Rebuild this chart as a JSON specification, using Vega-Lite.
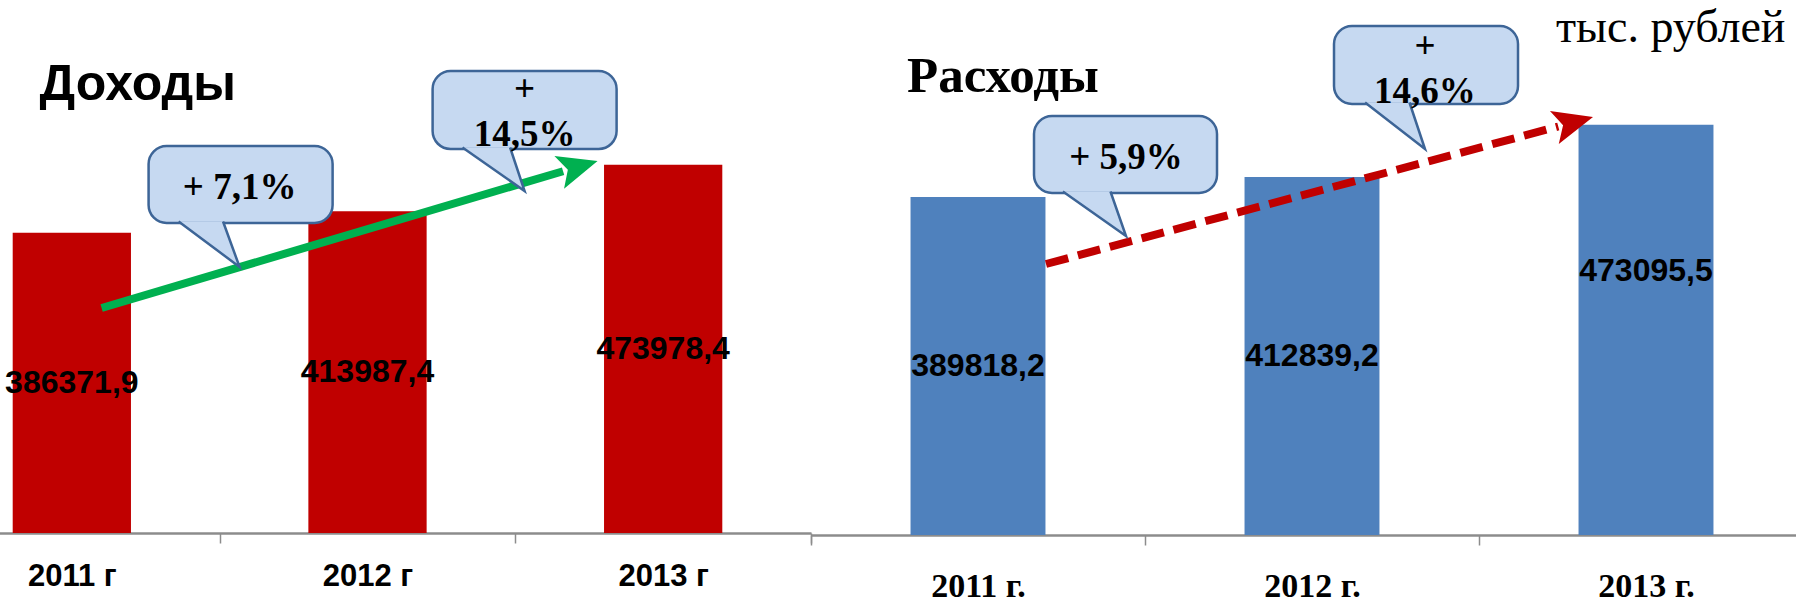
{
  "$schema": "https://vega.github.io/schema/vega-lite/v6.json",
  "background": "white",
  "padding": {"left": -77, "right": -17, "top": 0, "bottom": 0},
  "spacing": 0,
  "bounds": "flush",
  "config": {
    "view": {"stroke": null},
    "locale": {"number": {"decimal": ",", "thousands": " ", "grouping": [3], "currency": ["", ""]}}
  },
  "datasets": {
    "income": [
      {"year": "2011 г", "value": 386371.9},
      {"year": "2012 г", "value": 413987.4},
      {"year": "2013 г", "value": 473978.4}
    ],
    "expense": [
      {"year": "2011 г.", "value": 389818.2},
      {"year": "2012 г.", "value": 412839.2},
      {"year": "2013 г.", "value": 473095.5}
    ],
    "incArrow": [{"t": 2011.1007, "v": 289575, "o": 1}, {"t": 2012.6615, "v": 465637, "o": 2}],
    "incHead": [{"t": 2012.7133, "v": 471428}],
    "incBubble": [
      {"t": 2011.2596, "t2": 2011.882, "v": 498069, "v2": 398970},
      {"t": 2012.2202, "t2": 2012.8425, "v": 594594, "v2": 494208}
    ],
    "incTail": [
      {"id": 1, "o": 1, "t": 2011.3611, "v": 400900},
      {"id": 1, "o": 2, "t": 2011.5674, "v": 342342},
      {"id": 1, "o": 3, "t": 2011.5114, "v": 400900},
      {"id": 2, "o": 1, "t": 2012.3212, "v": 496139},
      {"id": 2, "o": 2, "t": 2012.5313, "v": 440154},
      {"id": 2, "o": 3, "t": 2012.4823, "v": 496139}
    ],
    "incText": [
      {"t": 2011.5674, "v": 444015, "txt": "+ 7,1%"},
      {"t": 2012.5313, "v": 570141, "txt": "+\n14,5%"}
    ],
    "incTitle": [{"t": 2010.891, "v": 557528, "txt": "Доходы"}],
    "expArrow": [{"t": 2011.2036, "v": 312463, "o": 1}, {"t": 2012.7374, "v": 471000, "o": 2}],
    "expHead": [{"t": 2012.7835, "v": 475843}],
    "expBubble": [
      {"t": 2011.1677, "t2": 2011.7156, "v": 483107, "v2": 394326},
      {"t": 2012.0659, "t2": 2012.6168, "v": 586877, "v2": 496943}
    ],
    "expTail": [
      {"id": 1, "o": 1, "t": 2011.2541, "v": 396055},
      {"id": 1, "o": 2, "t": 2011.4431, "v": 344747},
      {"id": 1, "o": 3, "t": 2011.3966, "v": 396055},
      {"id": 2, "o": 1, "t": 2012.1589, "v": 498673},
      {"id": 2, "o": 2, "t": 2012.3383, "v": 445058},
      {"id": 2, "o": 3, "t": 2012.2919, "v": 498673}
    ],
    "expText": [
      {"t": 2011.4431, "v": 434681, "txt": "+ 5,9%"},
      {"t": 2012.3383, "v": 562664, "txt": "+\n14,6%"}
    ],
    "expTitle": [{"t": 2010.7874, "v": 511010, "txt": "Расходы"}],
    "unit": [{"t": 2012.7306, "v": 568429, "txt": "тыс. рублей"}]
  },
  "hconcat": [
    {
      "width": 887,
      "height": 533,
      "resolve": {"scale": {"x": "independent"}},
      "layer": [
        {
          "data": {"name": "income"},
          "layer": [
            {
              "mark": {"type": "bar", "color": "#c00000", "width": {"band": 0.4}},
              "encoding": {
                "x": {
                  "field": "year", "type": "nominal",
                  "scale": {"paddingInner": 0, "paddingOuter": 0},
                  "axis": {"title": null, "labelAngle": 0, "tickBand": "extent", "labelFont": "Liberation Sans", "labelFontWeight": "bold", "labelFontSize": 31, "labelColor": "#000000", "labelPadding": 18, "tickSize": 10, "tickColor": "#8c8c8c", "tickWidth": 1.5, "domainColor": "#8c8c8c", "domainWidth": 2.5}
                },
                "y": {"field": "value", "type": "quantitative", "scale": {"domain": [0, 686000], "nice": false}, "axis": null}
              }
            },
            {
              "transform": [{"calculate": "datum.value / 2", "as": "mid"}],
              "mark": {"type": "text", "font": "Liberation Sans", "fontWeight": "bold", "fontSize": 32, "color": "#000000", "baseline": "middle"},
              "encoding": {
                "x": {"field": "year", "type": "nominal"},
                "y": {"field": "mid", "type": "quantitative", "scale": {"domain": [0, 686000], "nice": false}},
                "text": {"field": "value", "type": "quantitative", "format": ".1f"}
              }
            }
          ]
        },
        {
          "layer": [
            {
              "data": {"name": "incArrow"},
              "mark": {"type": "line", "color": "#00b050", "strokeWidth": 8, "strokeCap": "butt"},
              "encoding": {
                "x": {"field": "t", "type": "quantitative", "scale": {"domain": [2010.5, 2013.5], "nice": false, "zero": false}, "axis": null},
                "y": {"field": "v", "type": "quantitative", "scale": {"domain": [0, 686000], "nice": false}, "axis": null},
                "order": {"field": "o"}
              }
            },
            {
              "data": {"name": "incHead"},
              "mark": {"type": "point", "shape": "M1,0L-1,-0.85L-0.55,0L-1,0.85Z", "filled": true, "color": "#00b050", "opacity": 1, "size": 1600, "angle": 343.5, "strokeWidth": 0},
              "encoding": {
                "x": {"field": "t", "type": "quantitative"},
                "y": {"field": "v", "type": "quantitative"}
              }
            },
            {
              "data": {"name": "incBubble"},
              "mark": {"type": "rect", "fill": "#c6d9f1", "stroke": "#3d6597", "strokeWidth": 2.5, "cornerRadius": 18},
              "encoding": {
                "x": {"field": "t", "type": "quantitative"},
                "x2": {"field": "t2"},
                "y": {"field": "v", "type": "quantitative"},
                "y2": {"field": "v2"}
              }
            },
            {
              "data": {"name": "incTail"},
              "mark": {"type": "line", "fill": "#c6d9f1", "stroke": "#3d6597", "strokeWidth": 2.5, "strokeJoin": "miter"},
              "encoding": {
                "x": {"field": "t", "type": "quantitative"},
                "y": {"field": "v", "type": "quantitative"},
                "detail": {"field": "id"},
                "order": {"field": "o"}
              }
            },
            {
              "data": {"name": "incText"},
              "mark": {"type": "text", "font": "Liberation Serif", "fontWeight": "bold", "fontSize": 37, "color": "#000000", "baseline": "middle", "align": "center", "lineBreak": "\n", "lineHeight": 45},
              "encoding": {
                "x": {"field": "t", "type": "quantitative"},
                "y": {"field": "v", "type": "quantitative"},
                "text": {"field": "txt"}
              }
            },
            {
              "data": {"name": "incTitle"},
              "mark": {"type": "text", "font": "Liberation Sans", "fontWeight": "bold", "fontSize": 50, "color": "#000000", "baseline": "alphabetic", "align": "left"},
              "encoding": {
                "x": {"field": "t", "type": "quantitative"},
                "y": {"field": "v", "type": "quantitative"},
                "text": {"field": "txt"}
              }
            }
          ]
        }
      ]
    },
    {
      "width": 1002,
      "height": 535,
      "resolve": {"scale": {"x": "independent"}},
      "layer": [
        {
          "data": {"name": "expense"},
          "layer": [
            {
              "mark": {"type": "bar", "color": "#4f81bd", "width": {"band": 0.404}},
              "encoding": {
                "x": {
                  "field": "year", "type": "nominal",
                  "scale": {"paddingInner": 0, "paddingOuter": 0},
                  "axis": {"title": null, "labelAngle": 0, "tickBand": "extent", "labelFont": "Liberation Serif", "labelFontWeight": "bold", "labelFontSize": 34, "labelColor": "#000000", "labelPadding": 24, "tickSize": 10, "tickColor": "#8c8c8c", "tickWidth": 1.5, "domainColor": "#8c8c8c", "domainWidth": 2.5}
                },
                "y": {"field": "value", "type": "quantitative", "scale": {"domain": [0, 616855], "nice": false}, "axis": null}
              }
            },
            {
              "transform": [{"calculate": "datum.year === '2013 г.' ? datum.value * 0.644 : datum.value / 2", "as": "mid"}],
              "mark": {"type": "text", "font": "Liberation Sans", "fontWeight": "bold", "fontSize": 32, "color": "#000000", "baseline": "middle"},
              "encoding": {
                "x": {"field": "year", "type": "nominal"},
                "y": {"field": "mid", "type": "quantitative", "scale": {"domain": [0, 616855], "nice": false}},
                "text": {"field": "value", "type": "quantitative", "format": ".1f"}
              }
            }
          ]
        },
        {
          "layer": [
            {
              "data": {"name": "expArrow"},
              "mark": {"type": "line", "color": "#c00000", "strokeWidth": 8, "strokeCap": "butt", "strokeDash": [23, 10]},
              "encoding": {
                "x": {"field": "t", "type": "quantitative", "scale": {"domain": [2010.5, 2013.5], "nice": false, "zero": false}, "axis": null},
                "y": {"field": "v", "type": "quantitative", "scale": {"domain": [0, 616855], "nice": false}, "axis": null},
                "order": {"field": "o"}
              }
            },
            {
              "data": {"name": "expHead"},
              "mark": {"type": "point", "shape": "M1,0L-1,-0.85L-0.55,0L-1,0.85Z", "filled": true, "color": "#c00000", "opacity": 1, "size": 1600, "angle": 345, "strokeWidth": 0},
              "encoding": {
                "x": {"field": "t", "type": "quantitative"},
                "y": {"field": "v", "type": "quantitative"}
              }
            },
            {
              "data": {"name": "expBubble"},
              "mark": {"type": "rect", "fill": "#c6d9f1", "stroke": "#3d6597", "strokeWidth": 2.5, "cornerRadius": 18},
              "encoding": {
                "x": {"field": "t", "type": "quantitative"},
                "x2": {"field": "t2"},
                "y": {"field": "v", "type": "quantitative"},
                "y2": {"field": "v2"}
              }
            },
            {
              "data": {"name": "expTail"},
              "mark": {"type": "line", "fill": "#c6d9f1", "stroke": "#3d6597", "strokeWidth": 2.5, "strokeJoin": "miter"},
              "encoding": {
                "x": {"field": "t", "type": "quantitative"},
                "y": {"field": "v", "type": "quantitative"},
                "detail": {"field": "id"},
                "order": {"field": "o"}
              }
            },
            {
              "data": {"name": "expText"},
              "mark": {"type": "text", "font": "Liberation Serif", "fontWeight": "bold", "fontSize": 37, "color": "#000000", "baseline": "middle", "align": "center", "lineBreak": "\n", "lineHeight": 45},
              "encoding": {
                "x": {"field": "t", "type": "quantitative"},
                "y": {"field": "v", "type": "quantitative"},
                "text": {"field": "txt"}
              }
            },
            {
              "data": {"name": "expTitle"},
              "mark": {"type": "text", "font": "Liberation Serif", "fontWeight": "bold", "fontSize": 51, "color": "#000000", "baseline": "alphabetic", "align": "left"},
              "encoding": {
                "x": {"field": "t", "type": "quantitative"},
                "y": {"field": "v", "type": "quantitative"},
                "text": {"field": "txt"}
              }
            },
            {
              "data": {"name": "unit"},
              "mark": {"type": "text", "font": "Liberation Serif", "fontSize": 46, "color": "#000000", "baseline": "alphabetic", "align": "left"},
              "encoding": {
                "x": {"field": "t", "type": "quantitative"},
                "y": {"field": "v", "type": "quantitative"},
                "text": {"field": "txt"}
              }
            }
          ]
        }
      ]
    }
  ]
}
